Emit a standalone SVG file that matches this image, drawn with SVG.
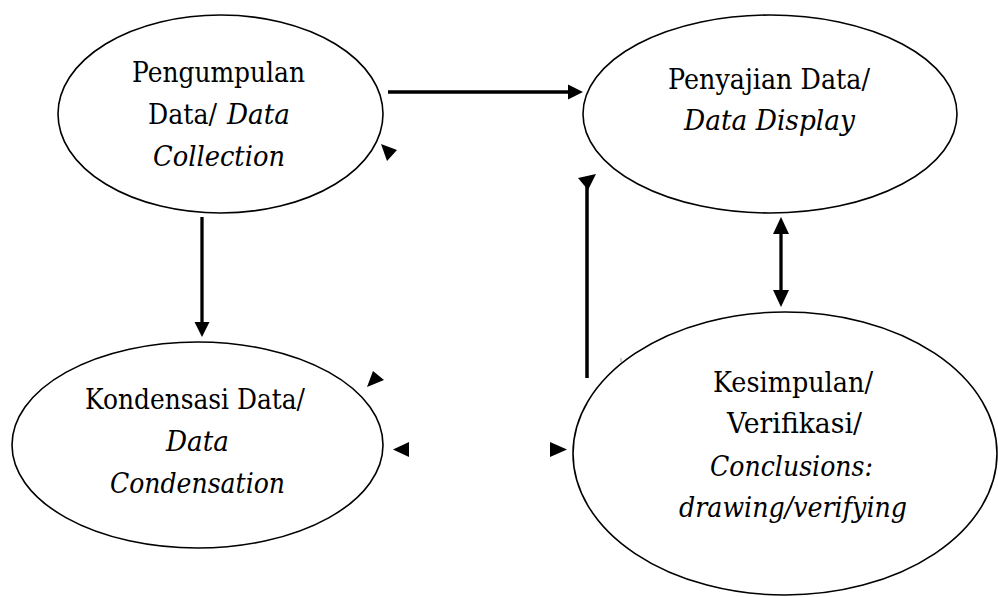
<svg xmlns="http://www.w3.org/2000/svg" width="998" height="597" viewBox="0 0 998 597">
<defs>
<style>
.node ellipse{fill:#fff;stroke:#000;stroke-width:1.6}
text{font-family:'DejaVu Serif',serif;font-size:28.5px;fill:#000;text-anchor:middle}
.i{font-style:italic}
.s{text-anchor:start}
.ln{stroke:#000;stroke-width:3.3;fill:none}
.hd{fill:#000;stroke:none}
</style>
</defs>
<rect width="998" height="597" fill="#fff"/>
<g id="n1" class="node">
<ellipse cx="220.5" cy="114" rx="162.5" ry="99"/>
<text x="218.5" y="82" textLength="173" lengthAdjust="spacingAndGlyphs">Pengumpulan</text>
<text class="s" x="148" y="124" textLength="69" lengthAdjust="spacingAndGlyphs">Data/</text>
<text class="s i" x="227" y="124" textLength="63" lengthAdjust="spacingAndGlyphs">Data</text>
<text class="i" x="219" y="166" textLength="132" lengthAdjust="spacingAndGlyphs">Collection</text>
</g>
<g id="n2" class="node">
<ellipse cx="197.5" cy="445" rx="185.5" ry="103"/>
<text x="195" y="409" textLength="220" lengthAdjust="spacingAndGlyphs">Kondensasi Data/</text>
<text class="i" x="197.5" y="451" textLength="63" lengthAdjust="spacingAndGlyphs">Data</text>
<text class="i" x="197.5" y="493" textLength="175" lengthAdjust="spacingAndGlyphs">Condensation</text>
</g>
<g id="n3" class="node">
<ellipse cx="770" cy="114" rx="187" ry="99"/>
<text x="769" y="89" textLength="202" lengthAdjust="spacingAndGlyphs">Penyajian Data/</text>
<text class="i" x="769.5" y="130" textLength="171" lengthAdjust="spacingAndGlyphs">Data Display</text>
</g>
<g id="n4" class="node">
<ellipse cx="785" cy="453.5" rx="212" ry="141.5"/>
<text x="793" y="392" textLength="160" lengthAdjust="spacingAndGlyphs">Kesimpulan/</text>
<text x="794.5" y="433" textLength="135" lengthAdjust="spacingAndGlyphs">Verifikasi/</text>
<text class="i" x="791.5" y="476" textLength="163" lengthAdjust="spacingAndGlyphs">Conclusions:</text>
<text class="i" x="793" y="517" textLength="228" lengthAdjust="spacingAndGlyphs">drawing/verifying</text>
</g>
<g id="connectors">
<line class="ln" x1="388" y1="92" x2="569" y2="92"/>
<polygon class="hd" points="568,84.5 583,92 568,99.5"/>
<line class="ln" x1="202" y1="217" x2="202" y2="323"/>
<polygon class="hd" points="194.5,322 202,337 209.5,322"/>
<line class="ln" x1="781" y1="233" x2="781" y2="291"/>
<polygon class="hd" points="773,234 781,217 789,234"/>
<polygon class="hd" points="773,290 781,307 789,290"/>
<line class="ln" x1="587" y1="186" x2="587" y2="378" style="stroke-width:3.5"/>
<polygon class="hd" points="578,178 596,174 588,190"/>
<polygon class="hd" points="381,144 397,150 387,161"/>
<polygon class="hd" points="373,371 384,380 367,387"/>
<polygon class="hd" points="393,449.5 409,442 409,457"/>
<polygon class="hd" points="550,442 567,449.5 550,457"/>
<line x1="621" y1="358" x2="621" y2="362" stroke="#999" stroke-width="1"/>
</g>
</svg>
